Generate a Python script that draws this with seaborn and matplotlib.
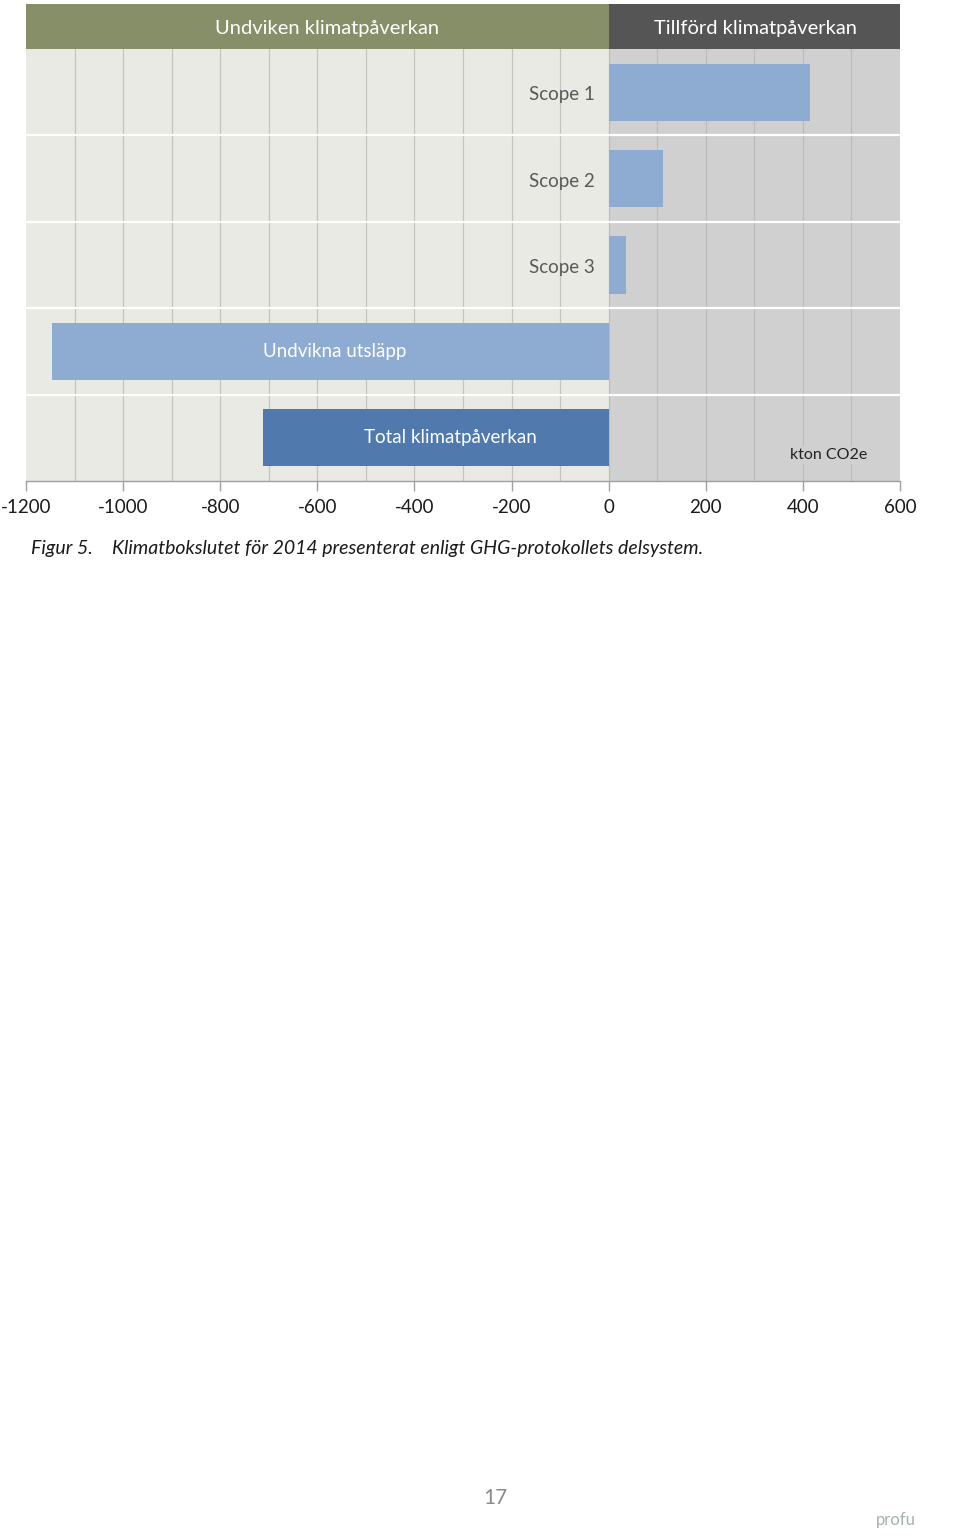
import matplotlib
matplotlib.use("Agg")
import matplotlib.pyplot as plt
import matplotlib.transforms as mtransforms
from matplotlib.patches import Rectangle
import seaborn as sns
import pandas as pd

# ---------------- data ----------------
categories = ["Scope 1", "Scope 2", "Scope 3", "Undvikna utsläpp", "Total klimatpåverkan"]
values = [415, 112, 36, -1147, -712]
bar_colors = ["#8eacd2", "#8eacd2", "#8eacd2", "#8eacd2", "#5079ae"]
x_ticks = [-1200, -1000, -800, -600, -400, -200, 0, 200, 400, 600]
header_left = "Undviken klimatpåverkan"
header_right = "Tillförd klimatpåverkan"
unit_label = "kton CO2e"
caption_num = "Figur 5."
caption_text = "Klimatbokslutet för 2014 presenterat enligt GHG-protokollets delsystem."
page_number = "17"

df = pd.DataFrame({"category": categories, "value": values})

sns.set_theme(style="white")
plt.rcParams["font.family"] = ["Lato", "DejaVu Sans"]

W, H = 960, 1535
fig = plt.figure(figsize=(W / 100, H / 100), dpi=100)
fig.patch.set_facecolor("white")

left_px, right_px, top_px, bottom_px = 26, 900, 49, 481
ax = fig.add_axes([left_px / W, 1 - bottom_px / H,
                   (right_px - left_px) / W, (bottom_px - top_px) / H])

xmin, xmax = x_ticks[0], x_ticks[-1]

# backgrounds
ax.axvspan(xmin, 0, color="#e8eae3", zorder=0, lw=0)
ax.axvspan(0, xmax, color="#d0d0d0", zorder=0, lw=0)

# gridlines every 100
for gx in range(xmin + 100, xmax, 100):
    ax.axvline(gx, color="#c2c4bd" if gx < 0 else "#bcbcbc", lw=0.9, zorder=0.5)

sns.barplot(data=df, y="category", x="value", hue="category",
            palette=dict(zip(categories, bar_colors)), legend=False,
            orient="h", width=0.66, saturation=1, ax=ax, zorder=2,
            edgecolor="none", linewidth=0)

# white row separators
for i in range(len(categories) - 1):
    ax.axhline(i + 0.5, color="white", lw=1.6, zorder=1)

ax.set_xlim(xmin, xmax)
ax.set_ylim(len(categories) - 0.5, -0.5)
ax.set_xticks(x_ticks)
ax.set_xticklabels([str(t) for t in x_ticks], fontsize=13.5, color="#1a1a1a")
ax.tick_params(axis="x", length=7, width=1, color="#a0a0a0", pad=6, bottom=True)
ax.set_yticks([])
ax.set_xlabel("")
ax.set_ylabel("")
for s in ["top", "left", "right"]:
    ax.spines[s].set_visible(False)
ax.spines["bottom"].set_color("#a0a0a0")
ax.spines["bottom"].set_linewidth(1)

# category labels
for i, (cat, v) in enumerate(zip(categories, values)):
    if v > 0:
        ax.text(-28, i + 0.03, cat, ha="right", va="center", fontsize=13.5,
                color="#5a5a5a", zorder=3)
    else:
        offs = 10 if i == 3 else 30
        ax.text(v / 2 + offs, i, cat, ha="center", va="center", fontsize=13.5,
                color="white", zorder=3)

ax.text(452, 4.2, unit_label, ha="center", va="center", fontsize=11.5,
        color="#222222", zorder=3,
        bbox=dict(facecolor="#d0d0d0", edgecolor="none", pad=1.5))

# header bands
trans = mtransforms.blended_transform_factory(ax.transData, ax.transAxes)
hh = 45 / (bottom_px - top_px)
ax.add_patch(Rectangle((xmin, 1.0), 0 - xmin, hh, transform=trans,
                       facecolor="#868f68", edgecolor="none", clip_on=False))
ax.add_patch(Rectangle((0, 1.0), xmax, hh, transform=trans,
                       facecolor="#555555", edgecolor="none", clip_on=False))
ax.text(-580, 1 + hh / 2 - 0.005, header_left, transform=trans, ha="center", va="center",
        fontsize=14.5, color="white")
ax.text(303, 1 + hh / 2 - 0.005, header_right, transform=trans, ha="center", va="center",
        fontsize=14.5, color="white")

# caption
fig.text(31 / W, 1 - 548 / H, caption_num, ha="left", va="center",
         fontsize=14, style="italic", color="#1a1a1a")
fig.text(112 / W, 1 - 548 / H, caption_text, ha="left", va="center",
         fontsize=14, style="italic", color="#1a1a1a")

# page number and logo text
fig.text(495 / W, 1 - 1498 / H, page_number, ha="center", va="center",
         fontsize=15, color="#8a8a8a")
fig.text(896 / W, 1 - 1520 / H, "profu", ha="center", va="center",
         fontsize=12, color="#a8b0b0")

fig.savefig("out.png", dpi=100, facecolor="white")
